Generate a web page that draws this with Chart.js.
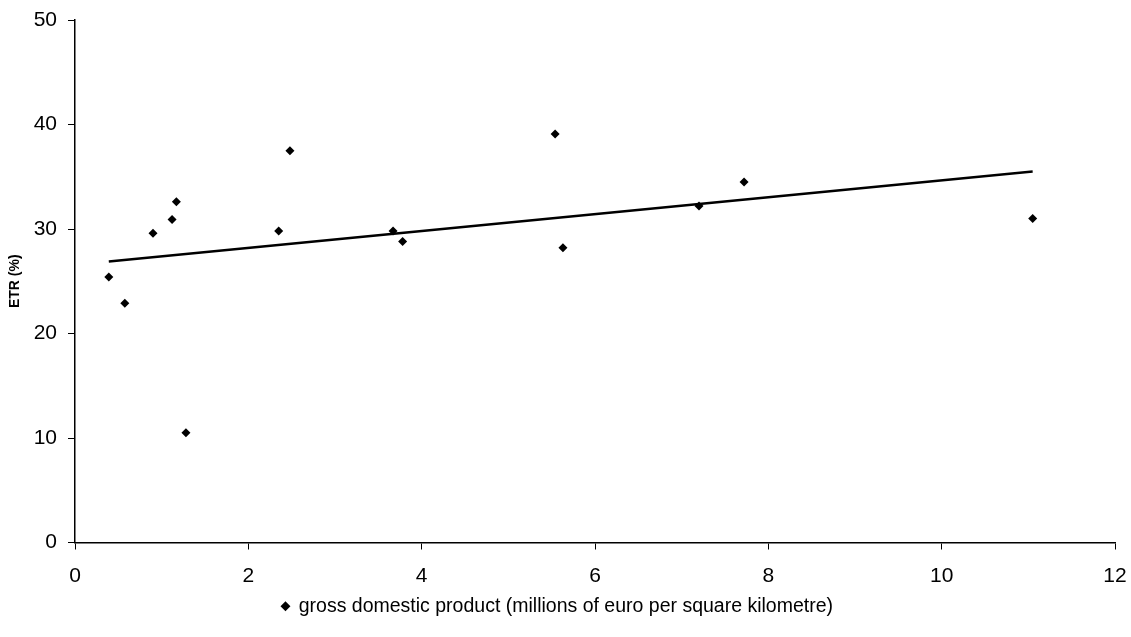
<!DOCTYPE html>
<html>
<head>
<meta charset="utf-8">
<script src="https://cdn.jsdelivr.net/npm/chart.js@4"></script>
<style>
  body { margin: 0; background: #fff; }
  #wrap { width: 1131px; height: 637px; }
</style>
</head>
<body>
<div id="wrap"><canvas id="chart" width="1131" height="637"></canvas></div>
<script>
// GDP density (millions of euro per km2) vs ETR (%)
const gdpDensity = [0.39, 0.575, 0.90, 1.12, 1.17, 1.28, 2.35, 2.48, 3.67, 3.78, 5.54, 5.63, 7.20, 7.72, 11.05];
const etrValues  = [25.4, 22.9, 29.6, 30.9, 32.6, 10.5, 29.8, 37.5, 29.8, 28.8, 39.1, 28.2, 32.2, 34.5, 31.0];

// linear trend, read from its two ends
const trendX = [0.39, 11.05];
const trendY = [26.9, 35.5];

const seriesLabel = 'gross domestic product (millions of euro per square kilometre)';
const yTitle = 'ETR (%)';

const FONT = "'Liberation Sans', Arial, sans-serif";

const points = gdpDensity.map((x, i) => ({ x, y: etrValues[i] }));
const trend = trendX.map((x, i) => ({ x, y: trendY[i] }));

const ctx = document.getElementById('chart').getContext('2d');
new Chart(ctx, {
  type: 'scatter',
  data: {
    datasets: [
      {
        label: seriesLabel,
        data: points,
        pointStyle: 'rectRot',
        pointRadius: 4.5,
        pointHoverRadius: 4.5,
        backgroundColor: '#000',
        borderColor: '#000',
        borderWidth: 0
      },
      {
        label: 'trend',
        data: trend,
        showLine: true,
        pointRadius: 0,
        borderColor: '#000',
        borderWidth: 2.5,
        fill: false
      }
    ]
  },
  options: {
    responsive: false,
    animation: false,
    layout: { padding: { top: 20, right: 16, bottom: 11, left: 0 } },
    plugins: {
      tooltip: { enabled: false },
      legend: {
        position: 'bottom',
        labels: {
          filter: item => item.datasetIndex === 0,
          usePointStyle: true,
          boxWidth: 7,
          boxHeight: 7,
          padding: 8,
          color: '#000',
          font: { family: FONT, size: 19.5 }
        }
      }
    },
    scales: {
      x: {
        type: 'linear',
        min: 0,
        max: 12,
        ticks: { stepSize: 2, color: '#000', font: { family: FONT, size: 21 }, padding: 14 },
        grid: { drawOnChartArea: false, drawTicks: true, tickLength: 7, color: '#000' },
        border: { color: '#000', width: 1.5 },
        afterFit: s => { s.height = 46; s.paddingRight = 0; s.paddingLeft = 0; }
      },
      y: {
        min: 0,
        max: 50,
        ticks: { stepSize: 10, color: '#000', font: { family: FONT, size: 21 }, padding: 11 },
        title: { display: true, text: yTitle, color: '#000', font: { family: FONT, size: 14, weight: 'bold' }, padding: { top: 7, bottom: 0 } },
        grid: { drawOnChartArea: false, drawTicks: true, tickLength: 7, color: '#000' },
        border: { color: '#000', width: 1.5 },
        afterFit: s => { s.width = 75; s.paddingTop = 0; s.paddingBottom = 0; }
      }
    }
  }
});
</script>
</body>
</html>
